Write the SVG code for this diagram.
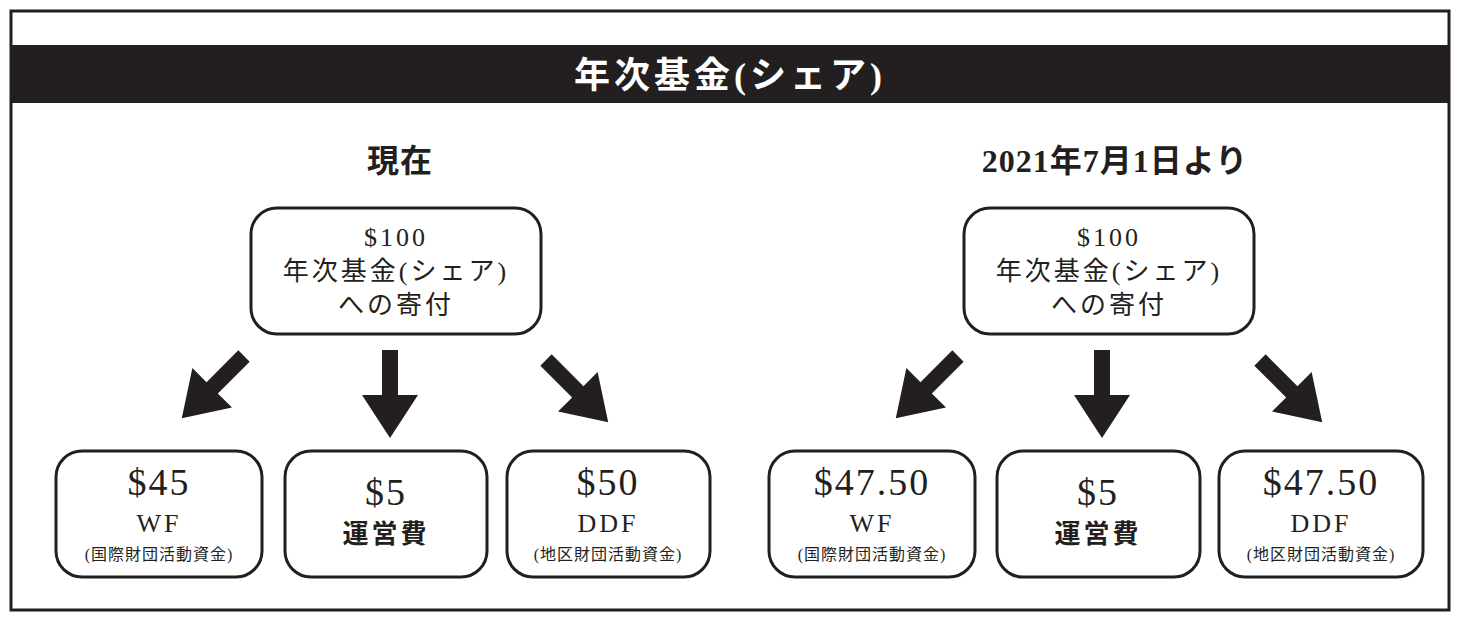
<svg xmlns="http://www.w3.org/2000/svg" width="1460" height="621" viewBox="0 0 1460 621">
<style>
text{font-family:"Liberation Serif","Noto Sans CJK JP",serif;fill:#231f20;text-anchor:middle}
.box{fill:#fff;stroke:#231f20;stroke-width:3}
.big{font-size:38px;letter-spacing:2px}
.mid{font-size:26px;letter-spacing:3px}
.sm{font-size:16px;letter-spacing:1px}
.h{font-size:32px;font-weight:bold;letter-spacing:1px}
.ar{fill:#231f20}
</style>
<defs>
<polygon id="down" points="-8,0 8,0 8,45 28,45 0,88 -28,45 -8,45"/>
</defs>
<rect x="0" y="0" width="1460" height="621" fill="#fff"/>
<rect x="11" y="11" width="1438" height="599" fill="none" stroke="#231f20" stroke-width="3"/>
<rect x="10" y="45" width="1440" height="58" fill="#231f20"/>
<text x="730" y="88" style="fill:#fff;font-size:36px;font-weight:bold;letter-spacing:4px">年次基金(シェア)</text>
<text x="400" y="172" class="h">現在</text>
<text x="1115" y="172" class="h">2021年7月1日より</text>
<g id="top-left"><rect class="box" x="251" y="208" width="290" height="126" rx="26"/>
<text x="396" y="246" class="mid">$100</text><text x="396" y="280" class="mid">年次基金(シェア)</text><text x="396" y="314" class="mid">への寄付</text></g>
<g id="top-right"><rect class="box" x="964" y="208" width="290" height="126" rx="26"/>
<text x="1109" y="246" class="mid">$100</text><text x="1109" y="280" class="mid">年次基金(シェア)</text><text x="1109" y="314" class="mid">への寄付</text></g>
<g id="l-wf"><rect class="box" x="56" y="451" width="206" height="126" rx="26"/>
<text x="159" y="495" class="big">$45</text><text x="159" y="532" class="mid">WF</text><text x="159" y="560" class="sm">(国際財団活動資金)</text></g>
<g id="l-op"><rect class="box" x="285" y="451" width="202" height="126" rx="26"/>
<text x="386" y="505" class="big">$5</text><text x="386" y="543" class="mid" font-weight="bold">運営費</text></g>
<g id="l-ddf"><rect class="box" x="507" y="451" width="203" height="126" rx="26"/>
<text x="608" y="495" class="big">$50</text><text x="608" y="532" class="mid">DDF</text><text x="608" y="560" class="sm">(地区財団活動資金)</text></g>
<g id="r-wf"><rect class="box" x="769" y="451" width="206" height="126" rx="26"/>
<text x="872" y="495" class="big">$47.50</text><text x="872" y="532" class="mid">WF</text><text x="872" y="560" class="sm">(国際財団活動資金)</text></g>
<g id="r-op"><rect class="box" x="997" y="451" width="203" height="126" rx="26"/>
<text x="1098" y="505" class="big">$5</text><text x="1098" y="543" class="mid" font-weight="bold">運営費</text></g>
<g id="r-ddf"><rect class="box" x="1219" y="451" width="204" height="126" rx="26"/>
<text x="1321" y="495" class="big">$47.50</text><text x="1321" y="532" class="mid">DDF</text><text x="1321" y="560" class="sm">(地区財団活動資金)</text></g>
<g id="connectors" class="ar">
<use href="#down" x="390" y="350"/>
<use href="#down" transform="translate(244,356) rotate(45)"/>
<use href="#down" transform="translate(546,360) rotate(-45)"/>
<use href="#down" x="1102" y="350"/>
<use href="#down" transform="translate(958,356) rotate(45)"/>
<use href="#down" transform="translate(1260,360) rotate(-45)"/>
</g>
</svg>
